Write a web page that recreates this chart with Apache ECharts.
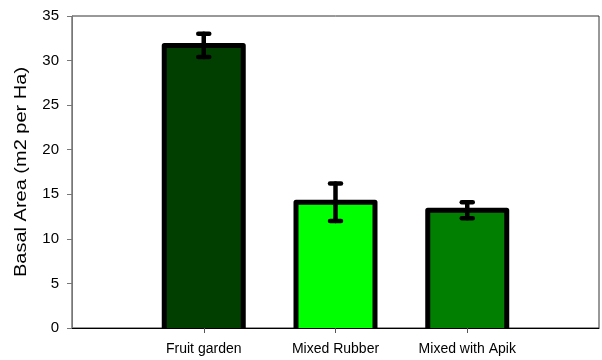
<!DOCTYPE html>
<html>
<head>
<meta charset="utf-8">
<script src="https://cdn.jsdelivr.net/npm/echarts@6/dist/echarts.min.js"></script>
<style>html,body{margin:0;padding:0;background:#fff}#c{width:602px;height:360px}</style>
</head>
<body>
<div id="c"></div>
<script>
const categories = ['', 'Fruit garden', 'Mixed Rubber', 'Mixed with Apik', ''];
const values = [null, 31.7, 14.1, 13.2, null];
const errors = [null, 1.3, 2.1, 0.9, null];
const yTicks = [0, 5, 10, 15, 20, 25, 30, 35];
const yTitle = 'Basal Area (m2 per Ha)';

const barColors = ['#ffffff', '#003f00', '#00ff00', '#007f00', '#ffffff'];
const font = 'Liberation Sans, Arial, sans-serif';
const BAR_W = 79;

const chart = echarts.init(document.getElementById('c'), null, {renderer: 'canvas'});

const barData = values.map((v, i) => v == null ? null : {
  value: v,
  itemStyle: {color: barColors[i], borderWidth: 0}
});
const outlineData = values.map((v, i) => v == null ? null : [i, v]).filter(d => d);
const errData = values.map((v, i) => v == null ? null : [i, v - errors[i], v + errors[i]]).filter(d => d);

chart.setOption({
  animation: false,
  grid: {left: 72, right: 1, top: 16, bottom: 32, show: true, borderColor: '#333', borderWidth: 1, containLabel: false},
  graphic: [{
    type: 'text',
    x: 22, y: 172,
    rotation: Math.PI / 2,
    scaleX: 1.25,
    style: {text: yTitle, fill: '#000', font: '16px ' + font, align: 'center', verticalAlign: 'middle'}
  }],
  xAxis: {
    type: 'category',
    data: categories,
    boundaryGap: false,
    axisLine: {lineStyle: {color: '#000', width: 1}},
    axisTick: {length: 5, lineStyle: {color: '#555'}, interval: (i) => i > 0 && i < categories.length - 1},
    axisLabel: {interval: 0, color: '#000', fontFamily: font, fontSize: 14, margin: 14},
    splitLine: {show: false}
  },
  yAxis: {
    type: 'value',
    min: yTicks[0], max: yTicks[yTicks.length - 1], interval: 5,
    axisLine: {show: true, lineStyle: {color: '#777', width: 1}},
    axisTick: {show: true, length: 5, lineStyle: {color: '#777'}},
    axisLabel: {color: '#000', fontFamily: font, fontSize: 15, margin: 13},
    splitLine: {show: false}
  },
  series: [
    {
      type: 'bar',
      data: barData,
      barWidth: BAR_W,
      z: 2
    },
    {
      type: 'custom',
      z: 3,
      data: outlineData,
      renderItem: function (params, api) {
        const x = api.value(0);
        const top = api.coord([x, api.value(1)]);
        const bot = api.coord([x, 0]);
        const h = BAR_W / 2;
        return {
          type: 'polyline',
          shape: {points: [[top[0] - h, bot[1]], [top[0] - h, top[1]], [top[0] + h, top[1]], [top[0] + h, bot[1]]]},
          style: {stroke: '#000', lineWidth: 5, fill: null, lineJoin: 'round', lineCap: 'butt'}
        };
      }
    },
    {
      type: 'custom',
      z: 4,
      data: errData,
      renderItem: function (params, api) {
        const x = api.value(0);
        const lo = api.coord([x, api.value(1)]);
        const hi = api.coord([x, api.value(2)]);
        const cap = 5.5;
        const st = {stroke: '#000', lineWidth: 4.5, lineCap: 'round'};
        return {
          type: 'group',
          children: [
            {type: 'line', shape: {x1: lo[0], y1: lo[1], x2: hi[0], y2: hi[1]}, style: st},
            {type: 'line', shape: {x1: lo[0] - cap, y1: lo[1], x2: lo[0] + cap, y2: lo[1]}, style: st},
            {type: 'line', shape: {x1: hi[0] - cap, y1: hi[1], x2: hi[0] + cap, y2: hi[1]}, style: st}
          ]
        };
      }
    }
  ]
});
</script>
</body>
</html>
